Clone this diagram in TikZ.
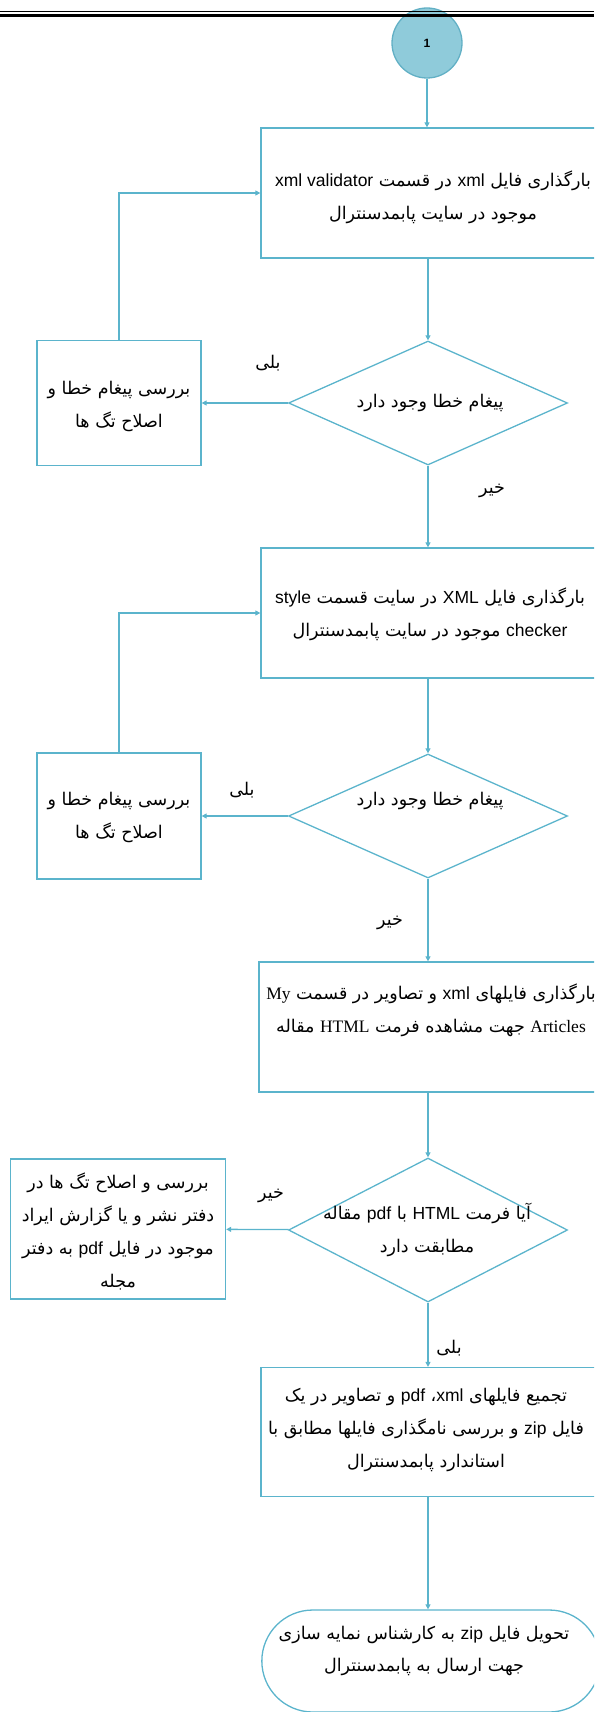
\documentclass[tikz,border=0pt]{standalone}
\usepackage{fontspec}
\setmainfont{Liberation Sans}
\newfontfamily\fa[Script=Arabic]{DejaVu Sans}
\newfontfamily\lat{Liberation Sans}
\newfontfamily\tms{Liberation Serif}
\TeXXeTstate=1
\usetikzlibrary{arrows.meta,shapes.geometric,shapes.misc}

\definecolor{lineblue}{HTML}{5BB4CC}
\definecolor{circfill}{HTML}{8FCBDA}
\definecolor{circline}{HTML}{62B0C5}

\newcommand{\fl}[1]{\beginR #1\endR}
\newcommand{\lw}[1]{\beginL{\lat #1}\endL}
\newcommand{\tw}[1]{\beginL{\tms #1}\endL}

\begin{document}
\begin{tikzpicture}[x=1pt,y=-1pt,
    box/.style={draw=lineblue,line width=1.3pt,minimum width=340pt,minimum height=130pt,inner sep=0pt},
    fix/.style={draw=lineblue,line width=1.3pt,inner sep=0pt},
    ask/.style={diamond,draw=lineblue,line width=1.3pt,minimum width=279pt,minimum height=124pt,inner sep=0pt},
    txt/.style={align=center,inner sep=0pt,font=\fa\fontsize{17.5pt}{33pt}\selectfont},
    flow/.style={draw=lineblue,line width=1.3pt,-{Triangle[length=5pt,width=5pt]}}]
    \useasboundingbox (0,0) rectangle (594,1712);
    \clip (0,0) rectangle (594,1712);

    \node[circle,fill=circfill,draw=circline,line width=1.3pt,minimum size=70pt,inner sep=0pt,
        font=\lat\bfseries\fontsize{12pt}{14pt}\selectfont] (start) at (427,43) {1};
    \draw[line width=1.3pt] (0,11.7) -- (594,11.7);
    \draw[line width=3pt] (0,15.7) -- (594,15.7);

    % first check
    \node[box] (load1) at (431,193) {};
    \node[txt] (load1t) at (433,197) {\fl{بارگذاری فایل \lw{xml} در قسمت \lw{xml validator}}\\\fl{موجود در سایت پابمدسنترال}};
    \node[ask] (check1) at (428,403) {};
    \node[txt] (check1t) at (430,403) {\fl{پیغام خطا وجود دارد}};
    \node[fix,minimum width=164pt,minimum height=125pt] (fix1) at (119,403) {};
    \node[txt] (fix1t) at (119,406) {\fl{بررسی پیغام خطا و}\\\fl{اصلاح تگ ها}};

    % second check
    \node[box] (load2) at (431,613) {};
    \node[txt] (load2t) at (430,614) {\fl{بارگذاری فایل \lw{XML} در سایت قسمت \lw{style}}\\\fl{\lw{checker} موجود در سایت پابمدسنترال}};
    \node[ask] (check2) at (428,816) {};
    \node[txt] (check2t) at (430,801) {\fl{پیغام خطا وجود دارد}};
    \node[fix,minimum width=164pt,minimum height=126pt] (fix2) at (119,816) {};
    \node[txt] (fix2t) at (119,817) {\fl{بررسی پیغام خطا و}\\\fl{اصلاح تگ ها}};

    % html check
    \node[box,minimum width=342pt] (load3) at (430,1027) {};
    \node[txt] (load3t) at (431,1010) {\fl{بارگذاری فایلهای \lw{xml} و تصاویر در قسمت \tw{My}}\\\fl{\tw{Articles} جهت مشاهده فرمت \tw{HTML} مقاله}};
    \node[ask,minimum height=144pt] (check3) at (428,1230) {};
    \node[txt] (check3t) at (427,1230) {\fl{آیا فرمت \lw{HTML} با \lw{pdf} مقاله}\\\fl{مطابقت دارد}};
    \node[fix,minimum width=215pt,minimum height=140pt] (fix3) at (118,1229) {};
    \node[txt] (fix3t) at (118,1231) {\fl{بررسی و اصلاح تگ ها در}\\\fl{دفتر نشر و یا گزارش ایراد}\\\fl{موجود در فایل \lw{pdf} به دفتر}\\\fl{مجله}};

    % final steps
    \node[box,minimum height=129pt] (pack) at (431,1432) {};
    \node[txt] (packt) at (426,1430) {\fl{تجمیع فایلهای \lw{xml}، \lw{pdf} و تصاویر در یک}\\\fl{فایل \lw{zip} و بررسی نامگذاری فایلها مطابق با}\\\fl{استاندارد پابمدسنترال}};
    \node[rounded rectangle,draw=lineblue,line width=1.3pt,minimum width=345pt,minimum height=102pt] (finish) at (431,1661) {};
    \node[txt,font=\fa\fontsize{17.5pt}{32pt}\selectfont] (finisht) at (424,1651) {\fl{تحویل فایل \lw{zip} به کارشناس نمایه سازی}\\\fl{جهت ارسال به پابمدسنترال}};

    \foreach \n/\x/\y/\t in {yes1/268/363/بلی, no1/492/491/خیر, yes2/242/790/بلی,
        no2/390/923/خیر, no3/271/1196/خیر, yes3/449/1348/بلی}
    {
        \node[txt] (\n) at (\x,\y) {\fl{\t}};
    }

    \draw[flow] (start) -- (start |- load1.north);
    \draw[flow] (check1.north |- load1.south) -- (check1);
    \draw[flow] (check1) -- (fix1);
    \draw[flow] (fix1) |- (load1);
    \draw[flow] (check1) -- (check1 |- load2.north);
    \draw[flow] (check2.north |- load2.south) -- (check2);
    \draw[flow] (check2) -- (fix2);
    \draw[flow] (fix2) |- (load2);
    \draw[flow] (check2) -- (check2 |- load3.north);
    \draw[flow] (check3.north |- load3.south) -- (check3);
    \draw[flow] (check3) -- (fix3);
    \draw[flow] (check3) -- (check3 |- pack.north);
    \draw[flow] (check3 |- pack.south) -- (check3 |- finish.north);
\end{tikzpicture}
\end{document}
